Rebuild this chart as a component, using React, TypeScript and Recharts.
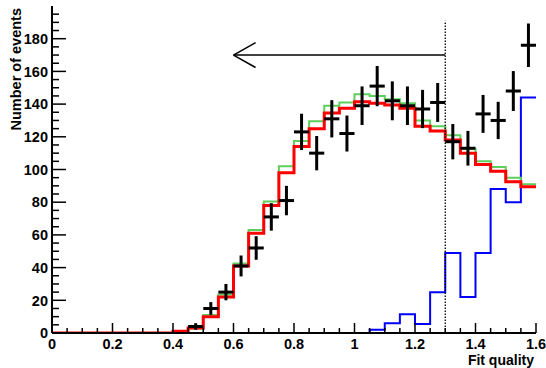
import React from 'react';
import { ComposedChart, Line, Scatter, ErrorBar, XAxis, YAxis, ReferenceLine } from 'recharts';

// histogram bins: 32 bins of width 0.05 from 0 to 1.6
const BIN_WIDTH = 0.05;
const redHist = [
  0, 0, 0, 0, 0, 0, 0, 0, 1, 3, 10, 22, 41, 61, 78, 98, 114, 125, 134.5, 137.5, 141.5, 140.5,
  139.5, 137.5, 126.5, 123.5, 118, 110, 103, 99, 92.5, 89.5,
];
const greenHist = [
  0, 0, 0, 0, 0, 0, 0, 0, 1, 2.8, 11, 23.5, 42.5, 63, 80.5, 102, 117.5, 129.5, 139, 141, 146, 145,
  143, 140.5, 130, 126.5, 121, 112.7, 105, 101.5, 95, 91,
];
const blueHist = [
  0, 0, 0, 0, 0, 0, 0, 0, 0, 0, 0, 0, 0, 0, 0, 0, 0, 0, 0, 0, 0, 2, 6, 11.5, 5.5, 25, 49, 22, 49,
  88, 80, 144,
];

// measured points (bin centres), counts and errors
const pointX = [
  0.475, 0.525, 0.575, 0.625, 0.675, 0.725, 0.775, 0.825, 0.875, 0.925, 0.975, 1.025, 1.075, 1.125,
  1.175, 1.225, 1.275, 1.325, 1.375, 1.425, 1.475, 1.525, 1.575,
];
const pointY = [
  4, 15, 25, 41, 52, 71, 81, 123, 110, 131, 122, 139, 151, 142, 139, 137, 141, 117, 113, 134, 130,
  148, 176,
];
const pointErr = [
  2, 3.9, 5, 6.4, 7.2, 8.4, 9, 11.1, 10.5, 11.4, 11, 11.8, 12.3, 11.9, 11.8, 11.7, 11.9, 10.8, 10.6,
  11.6, 11.4, 12.2, 13.3,
];

const xMajor = [0, 0.2, 0.4, 0.6, 0.8, 1, 1.2, 1.4, 1.6];
const yMajor = [0, 20, 40, 60, 80, 100, 120, 140, 160, 180];
const xTicks = Array.from({ length: 33 }, (_, i) => Math.round(i * 5) / 100);
const yTicks = Array.from({ length: 40 }, (_, i) => i * 5);

const cut = 1.3;
const arrowY = 170;
const arrowTip = 0.6;

const histData = redHist.map((r, i) => ({
  x: i * BIN_WIDTH,
  red: r,
  green: greenHist[i],
  blue: blueHist[i],
}));
histData.push({
  x: 1.6,
  red: redHist[31],
  green: greenHist[31],
  blue: blueHist[31],
});

const points = pointX.map((x, i) => ({ x, y: pointY[i], ey: pointErr[i], ex: BIN_WIDTH / 2 }));

const FONT = '"Liberation Sans", Arial, Helvetica, sans-serif';

const XTick = (props: any) => {
  const { x, y, payload } = props;
  const v = payload.value;
  const major = xMajor.some((m) => Math.abs(m - v) < 1e-6);
  return (
    <g>
      <line x1={x} x2={x} y1={y} y2={y - (major ? 10 : 5)} stroke="#000" strokeWidth={1.5} />
      {major && (
        <text x={x} y={y + 16} textAnchor="middle" fontFamily={FONT} fontWeight="bold" fontSize={14.5} fill="#000">
          {String(Number(v.toFixed(1)))}
        </text>
      )}
    </g>
  );
};

const YTick = (props: any) => {
  const { x, y, payload } = props;
  const v = payload.value;
  const major = yMajor.includes(v);
  return (
    <g>
      <line x1={x} x2={x + (major ? 14 : 7)} y1={y} y2={y} stroke="#000" strokeWidth={1.5} />
      {major && (
        <text x={x - 4} y={y} dy="0.36em" textAnchor="end" fontFamily={FONT} fontWeight="bold" fontSize={14.5} fill="#000">
          {v}
        </text>
      )}
    </g>
  );
};

const YTitle = (props: any) => {
  const vb = props.viewBox;
  const tx = 21;
  const ty = vb.y + 2;
  return (
    <text
      x={tx}
      y={ty}
      transform={`rotate(-90 ${tx} ${ty})`}
      textAnchor="end"
      fontFamily={FONT}
      fontWeight="bold"
      fontSize={14.5}
      fill="#000"
    >
      Number of events
    </text>
  );
};

const XTitle = (props: any) => {
  const vb = props.viewBox;
  return (
    <text
      x={vb.x + vb.width - 2}
      y={vb.y + 32}
      textAnchor="end"
      fontFamily={FONT}
      fontWeight="bold"
      fontSize={14}
      fill="#000"
    >
      Fit quality
    </text>
  );
};

export default function App() {
  return (
    <div style={{ position: 'absolute', left: 0, top: 0, background: '#fff' }}>
      <ComposedChart width={546} height={368} data={histData} margin={{ top: 6, right: 10, bottom: 0, left: 0 }}>
        <XAxis
          dataKey="x"
          type="number"
          domain={[0, 1.6]}
          ticks={xTicks}
          interval={0}
          height={35}
          tickSize={0}
          tickMargin={0}
          tickLine={false}
          tick={<XTick />}
          axisLine={{ stroke: '#000', strokeWidth: 2 }}
          allowDataOverflow
          label={<XTitle />}
        />
        <XAxis
          xAxisId="top"
          orientation="top"
          dataKey="x"
          type="number"
          domain={[0, 1.6]}
          height={0}
          tick={false}
          tickLine={false}
          axisLine={{ stroke: '#000', strokeWidth: 1.5 }}
        />
        <YAxis
          type="number"
          domain={[0, 200]}
          ticks={yTicks}
          interval={0}
          width={52}
          tickSize={0}
          tickMargin={0}
          tickLine={false}
          tick={<YTick />}
          axisLine={{ stroke: '#000', strokeWidth: 2 }}
          allowDataOverflow
          label={<YTitle />}
        />
        <YAxis
          yAxisId="right"
          orientation="right"
          type="number"
          domain={[0, 200]}
          width={0}
          tick={false}
          tickLine={false}
          axisLine={{ stroke: '#000', strokeWidth: 1.5 }}
        />
        <Line type="stepAfter" dataKey="blue" stroke="#0000ff" strokeWidth={2} dot={false} isAnimationActive={false} />
        <Line type="stepAfter" dataKey="green" stroke="#5ccf5c" strokeWidth={2} dot={false} isAnimationActive={false} />
        <Line type="stepAfter" dataKey="red" stroke="#ff0000" strokeWidth={3} dot={false} isAnimationActive={false} />
        <ReferenceLine
          segment={[{ x: cut, y: 0 }, { x: cut, y: 191 }]}
          stroke="#000"
          strokeWidth={1.3}
          strokeDasharray="1.5 1.5"
          ifOverflow="visible"
        />
        <ReferenceLine
          segment={[{ x: cut, y: arrowY }, { x: arrowTip, y: arrowY }]}
          stroke="#000"
          strokeWidth={1.5}
          ifOverflow="visible"
        />
        <ReferenceLine
          segment={[{ x: arrowTip, y: arrowY }, { x: arrowTip + 0.073, y: arrowY + 7.6 }]}
          stroke="#000"
          strokeWidth={1.5}
          ifOverflow="visible"
        />
        <ReferenceLine
          segment={[{ x: arrowTip, y: arrowY }, { x: arrowTip + 0.073, y: arrowY - 7.6 }]}
          stroke="#000"
          strokeWidth={1.5}
          ifOverflow="visible"
        />
        <Scatter data={points} dataKey="y" isAnimationActive={false} shape={() => <g />}>
          <ErrorBar dataKey="ey" direction="y" width={0} stroke="#000" strokeWidth={3} />
          <ErrorBar dataKey="ex" direction="x" width={0} stroke="#000" strokeWidth={3} />
        </Scatter>
      </ComposedChart>
    </div>
  );
}
